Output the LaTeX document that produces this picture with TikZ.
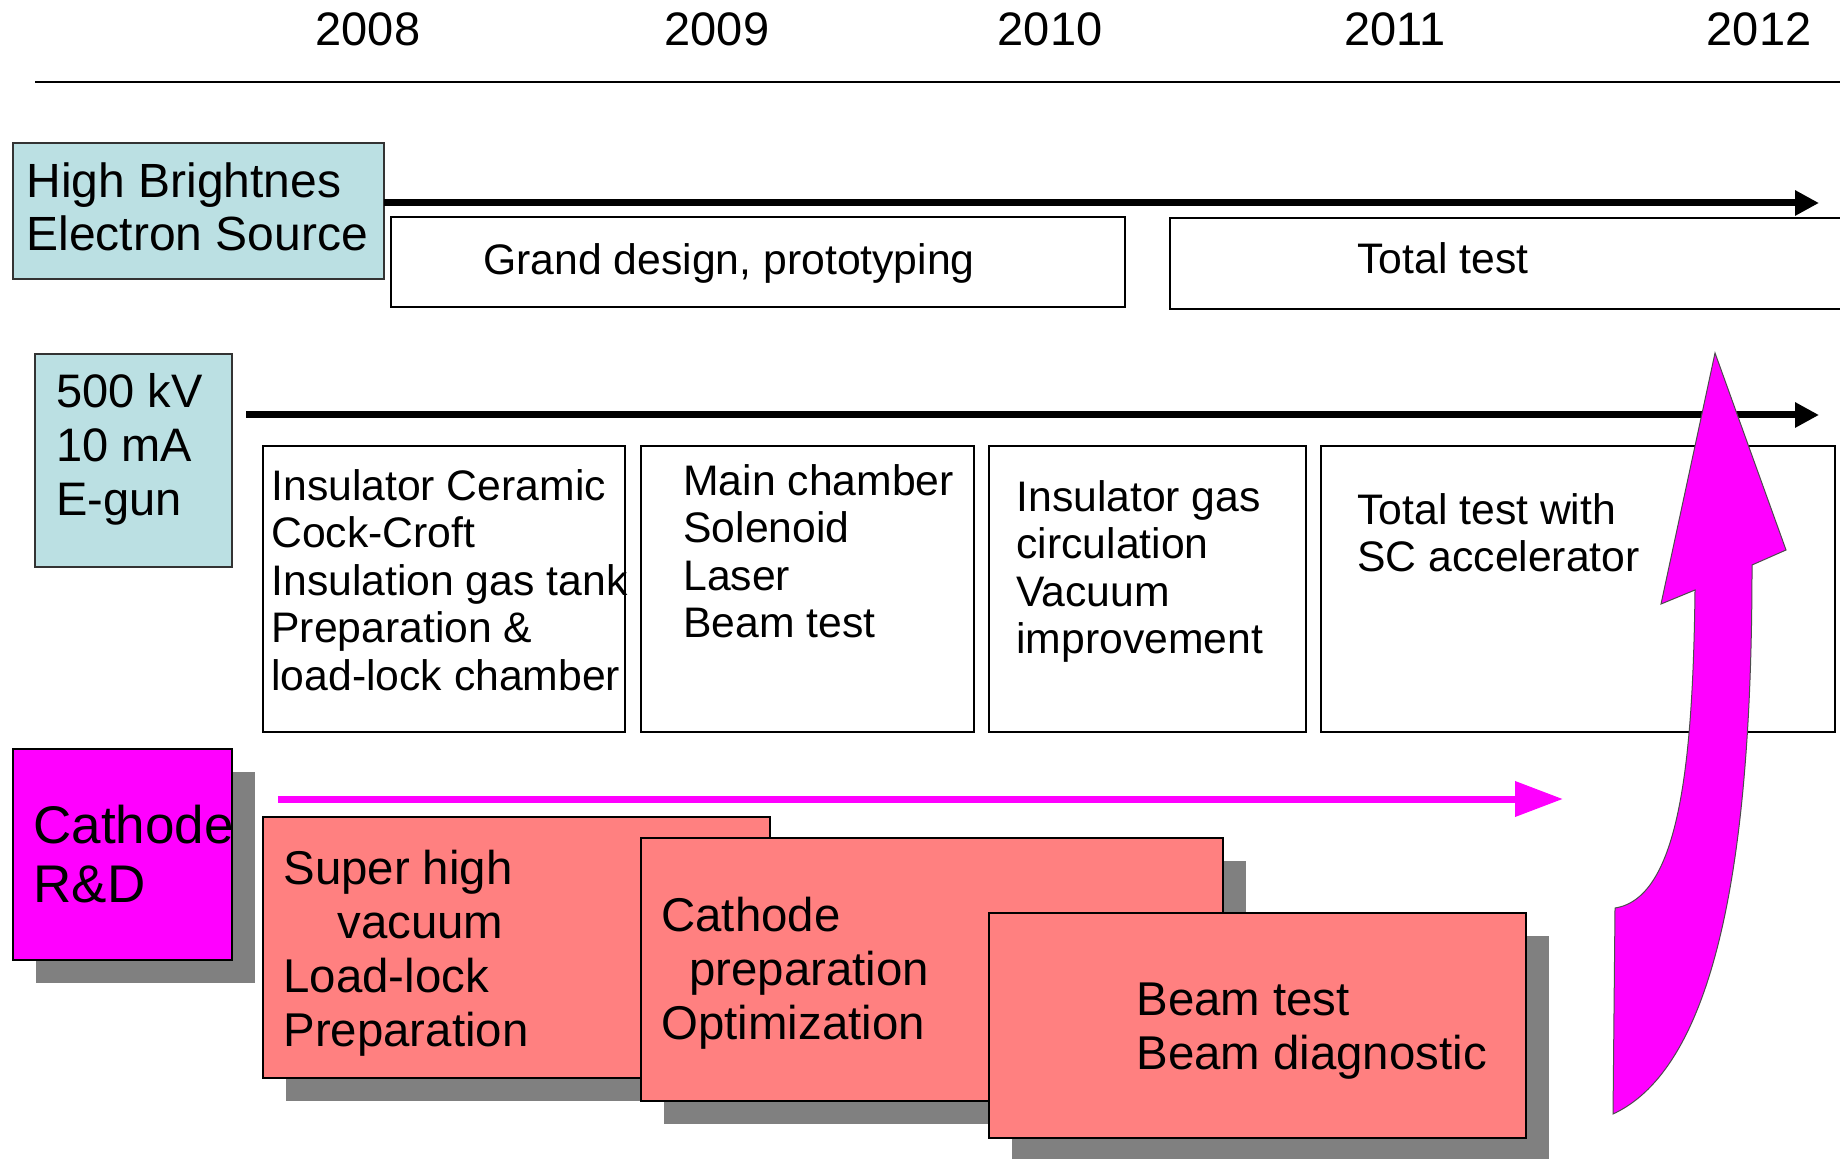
\documentclass[tikz,border=0pt]{standalone}
\usepackage{fontspec}
\setmainfont{Liberation Sans}
\usetikzlibrary{arrows.meta}
\definecolor{hbblue}{HTML}{BBE0E3}
\definecolor{salmon}{HTML}{FF8080}
\definecolor{shadowgray}{HTML}{808080}
\definecolor{mag}{HTML}{FF00FF}
\begin{document}
\begin{tikzpicture}[x=0.5pt,y=-0.5pt,
  year/.style={inner sep=0pt,font=\fontsize{23.5}{27}\selectfont},
  txt/.style={inner sep=0pt,align=left,anchor=north west},
  plainbox/.style={draw=black,line width=1pt,fill=white},
  bluebox/.style={draw=black!80,line width=0.8pt,fill=hbblue},
  magbox/.style={draw=black,line width=1pt,fill=mag},
  salbox/.style={draw=black,line width=1pt,fill=salmon},
  shade/.style={fill=shadowgray,draw=none},
  blackarrow/.style={line width=3.5pt,-{Triangle[length=12pt,width=12pt]}},
  magarrow/.style={draw=mag,line width=3.5pt,-{Triangle[length=24pt,width=17pt]}},
  bigarrow/.style={fill=mag,draw=black!70,line width=0.5pt},
  fA/.style={font=\fontsize{24}{26.5}\selectfont},
  fB/.style={font=\fontsize{21.35}{23.75}\selectfont},
  fC/.style={font=\fontsize{26.5}{29.5}\selectfont},
  fD/.style={font=\fontsize{23.7}{27}\selectfont}
]
\useasboundingbox (0,0) rectangle (1840,1159);
\clip (0,0) rectangle (1840,1159);

% years
\node[year] (y2008) at (368,29) {2008};
\node[year] (y2009) at (717,29) {2009};
\node[year] (y2010) at (1050,29) {2010};
\node[year] (y2011) at (1395,29) {2011};
\node[year] (y2012) at (1759,29) {2012};
\draw[line width=1.2pt] (35,82) -- (1840,82);

% row 1
\draw[bluebox] (13,143) rectangle (384,279);
\node[txt,fA] (hb) at (26,162) {High Brightnes\\Electron Source};
\draw[blackarrow] (384,203) -- (1819,203);
\draw[plainbox] (391,217) rectangle (1125,307);
\node[fB,anchor=west,inner sep=0pt] (gd) at (483,263) {Grand design, prototyping};
\draw[plainbox] (1170,218) rectangle (1850,309);
\node[fB,anchor=west,inner sep=0pt] (tt) at (1357,258) {Total test};

% row 2
\draw[bluebox] (35,354) rectangle (232,567);
\node[txt,font=\fontsize{23.5}{27}\selectfont] (eg) at (56,373) {500 kV\\10 mA\\E-gun};
\draw[blackarrow] (246,415) -- (1819,415);
\draw[plainbox] (263,446) rectangle (625,732);
\node[txt,fB] (b1) at (271,469) {Insulator Ceramic\\Cock-Croft\\Insulation gas tank\\Preparation \&\\load-lock chamber};
\draw[plainbox] (641,446) rectangle (974,732);
\node[txt,fB] (b2) at (683,464) {Main chamber\\Solenoid\\Laser\\Beam test};
\draw[plainbox] (989,446) rectangle (1306,732);
\node[txt,fB] (b3) at (1016,480) {Insulator gas\\circulation\\Vacuum\\improvement};
\draw[plainbox] (1321,446) rectangle (1835,732);
\node[txt,fB] (b4) at (1357,493) {Total test with\\SC accelerator};

% row 3
\fill[shade] (36,772) rectangle (255,983);
\draw[magbox] (13,749) rectangle (232,960);
\node[txt,fC] (cat) at (33,805) {Cathode\\R\&D};
\draw[magarrow] (278,799) -- (1563,799);

\fill[shade] (286,840) rectangle (793,1101);
\draw[salbox] (263,817) rectangle (770,1078);
\node[txt,fD] (s1) at (283,850) {Super high\\\hspace*{27pt}vacuum\\Load-lock\\Preparation};
\fill[shade] (664,861) rectangle (1246,1124);
\draw[salbox] (641,838) rectangle (1223,1101);
\node[txt,fD] (s2) at (661,897) {Cathode\\\hspace*{14pt}preparation\\Optimization};
\fill[shade] (1012,936) rectangle (1549,1161);
\draw[salbox] (989,913) rectangle (1526,1138);
\node[txt,fD] (s3) at (1136,982) {Beam test\\Beam diagnostic};

% big curved arrow
\draw[bigarrow] (1715,353) -- (1786,550) -- (1752,565)
  .. controls (1752,800) and (1730,1060) .. (1613,1114)
  -- (1615,908)
  .. controls (1680,898) and (1693,760) .. (1695,590)
  -- (1661,604) -- cycle;
\end{tikzpicture}
\end{document}
